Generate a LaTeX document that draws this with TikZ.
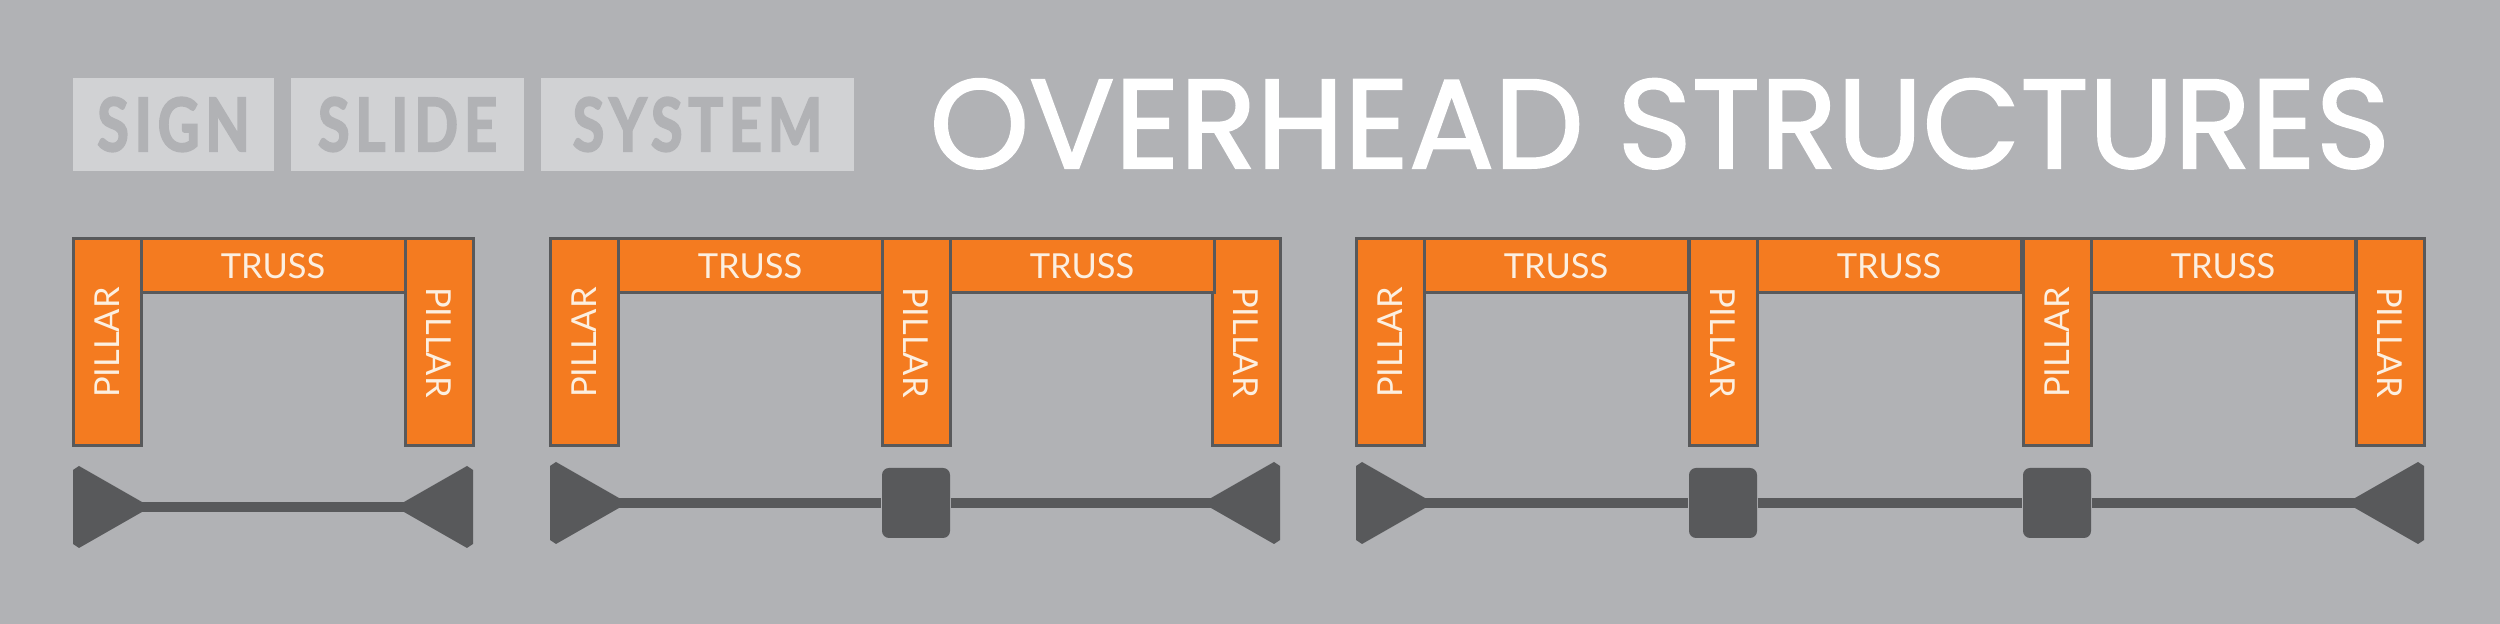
\documentclass[tikz,border=0pt]{standalone}
\usepackage{fontspec}
\setmainfont{Lato}
\newfontfamily\headfont[FakeBold=1.6]{Poppins}
\newfontfamily\tagfont[FakeStretch=0.78,LetterSpace=8,FakeBold=2.4]{Lato}
\usetikzlibrary{positioning}

\definecolor{panelgray}{HTML}{B1B2B5}
\definecolor{boxgray}{HTML}{D1D2D4}
\definecolor{beamorange}{HTML}{F47B20}
\definecolor{edgegray}{HTML}{58595B}
\definecolor{labelcream}{HTML}{FCEFE0}

\newcommand{\pilup}{\rotatebox{90}{PILLAR}}
\newcommand{\pildown}{\rotatebox{-90}{PILLAR}}

\tikzset{
    tagbox/.style={fill=boxgray,text=panelgray,inner sep=0pt,outer sep=0pt,minimum height=9.3mm,
        font=\tagfont\bfseries\fontsize{21}{21}\selectfont},
    pillar/.style={draw=edgegray,line width=0.3mm,fill=beamorange,text=labelcream,outer sep=0pt,
        inner sep=0pt,minimum width=6.8mm,minimum height=20.7mm,font=\fontsize{9.8}{10}\selectfont},
    truss/.style={draw=edgegray,line width=0.3mm,fill=beamorange,text=labelcream,outer sep=0pt,
        inner sep=0pt,minimum width=26.4mm,minimum height=5.4mm,anchor=north west,
        font=\fontsize{9.8}{10}\selectfont},
    block/.style={rectangle,rounded corners=0.7mm,fill=edgegray,inner sep=0pt,
        minimum width=6.8mm,minimum height=7mm},
    rail/.style={edgegray,line width=1mm},
    foot/.style={fill=edgegray}
}

\begin{document}
\begin{tikzpicture}[x=0.1mm,y=-0.1mm]
    \fill[panelgray] (0,0) rectangle (2500,624);
    \useasboundingbox (0,0) rectangle (2500,624);

    % Cabecera.
    \node[tagbox,minimum width=20.1mm,anchor=north west] (sign) at (73,78) {SIGN};
    \node[tagbox,minimum width=23.3mm,right=1.7mm of sign.north east,anchor=north west] (slide) {SLIDE};
    \node[tagbox,minimum width=31.3mm,right=1.7mm of slide.north east,anchor=north west] (system) {SYSTEM};
    \node[anchor=base west,text=white,inner sep=0pt,font=\headfont\fontsize{36}{36}\selectfont]
        (title) at (929,168) {OVERHEAD STRUCTURES};

    % Estructura de un tramo.
    \node[pillar] (s1p1) at (107,342.5) {\pilup};
    \node[pillar] (s1p2) at (439,342.5) {\pildown};
    \node[truss] (s1t1) at (s1p1.north east) {TRUSS};

    % Estructura de dos tramos.
    \node[pillar] (s2p1) at (584,342.5) {\pilup};
    \node[pillar] (s2p2) at (916,342.5) {\pildown};
    \node[pillar] (s2p3) at (1246,342.5) {\pildown};
    \node[truss] (s2t1) at (s2p1.north east) {TRUSS};
    \node[truss] (s2t2) at (s2p2.north east) {TRUSS};

    % Estructura de tres tramos.
    \node[pillar] (s3p1) at (1390,342.5) {\pilup};
    \node[pillar] (s3p2) at (1723,342.5) {\pildown};
    \node[pillar] (s3p3) at (2057,342.5) {\pilup};
    \node[pillar] (s3p4) at (2390,342.5) {\pildown};
    \node[truss] (s3t1) at (s3p1.north east) {TRUSS};
    \node[truss] (s3t2) at (s3p2.north east) {TRUSS};
    \node[truss] (s3t3) at (s3p3.north east) {TRUSS};

    % Planta de cada estructura.
    \coordinate (s1a) at (141,507);
    \coordinate (s1b) at (405,507);
    \coordinate (s2a) at (618,503);
    \coordinate (s2b) at (1212,503);
    \coordinate (s3a) at (1424,503);
    \coordinate (s3b) at (2356,503);
    \node[block] (s2k2) at (916,503) {};
    \node[block] (s3k2) at (1723,503) {};
    \node[block] (s3k3) at (2057,503) {};

    \draw[rail] (s1a) -- (s1b);
    \draw[rail] (s2a) -- (s2k2) -- (s2b);
    \draw[rail] (s3a) -- (s3k2) -- (s3k3) -- (s3b);

    \foreach \c in {s1a,s2a,s3a}{
        \fill[foot] (\c) ++(1,-5) -- ++(-63,-36) -- ++(-6,4) -- ++(0,74) -- ++(6,4) -- ++(63,-36) -- cycle;
    }
    \foreach \c in {s1b,s2b,s3b}{
        \fill[foot] (\c) ++(-1,-5) -- ++(63,-36) -- ++(6,4) -- ++(0,74) -- ++(-6,4) -- ++(-63,-36) -- cycle;
    }
\end{tikzpicture}
\end{document}
